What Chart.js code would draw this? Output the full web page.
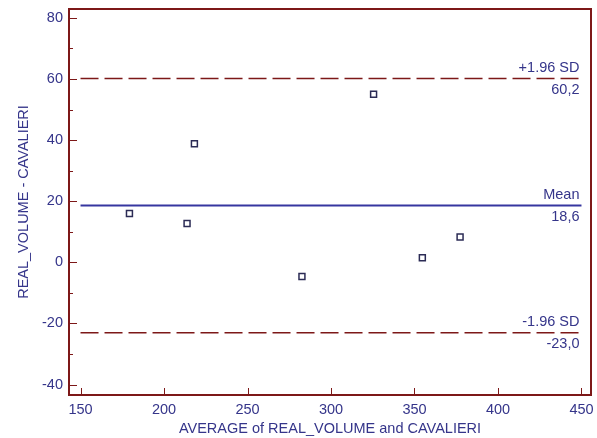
<!doctype html>
<html>
  <head>
    <meta charset="UTF-8">
    <script src="https://cdn.jsdelivr.net/npm/chart.js"></script>
    <style>
      body { margin: 0; background: #fff; }
      #wrap { position: relative; width: 597px; height: 438px; }
    </style>
  </head>
  <body>
    <div id="wrap"><canvas id="ba"></canvas></div>
    <script>
      // averages (x) and differences (y)
      const averages = [179.3, 213.8, 218.2, 282.6, 325.5, 354.7, 377.3];
      const differences = [16.0, 12.7, 38.8, -4.6, 55.0, 1.5, 8.3];

      const meanDiff = 18.6;
      const upperLimit = 60.2;
      const lowerLimit = -23.0;
      const lineLabels = ['+1.96 SD', 'Mean', '-1.96 SD'];
      const lineValues = ['60,2', '18,6', '-23,0'];

      const xRange = [150, 450];

      const navy = '#35358a';
      const darkRed = '#7d1818';
      const font = { family: 'Liberation Sans, Arial, sans-serif', size: 14.5 };

      function hLine(y, color, width, dash) {
        return {
          type: 'line',
          data: xRange.map(x => ({ x, y })),
          borderColor: color,
          borderWidth: width,
          borderDash: dash,
          pointRadius: 0,
        };
      }

      // frame, inward ticks and line labels
      const decorations = {
        id: 'decorations',
        afterDraw(chart) {
          const { ctx, chartArea: a, scales: { x, y } } = chart;
          ctx.save();
          ctx.strokeStyle = darkRed;
          ctx.lineWidth = 2;
          ctx.strokeRect(a.left, a.top, a.right - a.left, a.bottom - a.top);

          ctx.lineWidth = 1;
          for (let v = -40; v <= 80; v += 10) {
            const py = Math.round(y.getPixelForValue(v)) + 0.5;
            const len = v % 20 === 0 ? 8 : 4;
            ctx.beginPath();
            ctx.moveTo(a.left, py);
            ctx.lineTo(a.left + len, py);
            ctx.stroke();
          }
          for (let v = 150; v <= 450; v += 50) {
            const px = Math.round(x.getPixelForValue(v)) + 0.5;
            ctx.beginPath();
            ctx.moveTo(px, a.bottom);
            ctx.lineTo(px, a.bottom - 7);
            ctx.stroke();
          }

          ctx.fillStyle = navy;
          ctx.font = `${font.size}px ${font.family}`;
          ctx.textAlign = 'right';
          const rx = x.getPixelForValue(xRange[1]) - 2;
          [upperLimit, meanDiff, lowerLimit].forEach((v, i) => {
            const py = y.getPixelForValue(v);
            ctx.textBaseline = 'bottom';
            ctx.fillText(lineLabels[i], rx, py - 3);
            ctx.textBaseline = 'top';
            ctx.fillText(lineValues[i], rx, py + 4);
          });
          ctx.restore();
        }
      };

      new Chart(document.getElementById('ba'), {
        type: 'scatter',
        data: {
          datasets: [
            hLine(upperLimit, darkRed, 1.5, [18, 6]),
            hLine(meanDiff, '#3636a0', 2, []),
            hLine(lowerLimit, darkRed, 1.5, [18, 6]),
            {
              data: averages.map((x, i) => ({ x, y: differences[i] })),
              pointStyle: 'rect',
              pointRadius: 4.2,
              pointBorderWidth: 1.5,
              pointBorderColor: '#2b2b55',
              pointBackgroundColor: 'rgba(255,255,255,0)',
            },
          ]
        },
        options: {
          responsive: true,
          maintainAspectRatio: false,
          animation: false,
          layout: { padding: { top: 9, right: 6, left: 0, bottom: 0 } },
          plugins: {
            legend: { display: false },
            tooltip: { enabled: false },
          },
          scales: {
            x: {
              type: 'linear',
              min: 143.1,
              max: 455.7,
              grid: { display: false, drawTicks: false },
              border: { display: false },
              ticks: {
                stepSize: 50,
                includeBounds: false,
                maxRotation: 0,
                color: navy,
                font,
                padding: 6,
              },
              title: {
                display: true,
                text: 'AVERAGE of REAL_VOLUME and CAVALIERI',
                color: navy,
                font,
                padding: { top: 0, bottom: 0 },
              },
              afterFit(scale) {
                scale.height = 43;
                scale.paddingLeft = 0;
                scale.paddingRight = 0;
              },
            },
            y: {
              type: 'linear',
              min: -43.4,
              max: 82.9,
              grid: { display: false, drawTicks: false },
              border: { display: false },
              ticks: {
                stepSize: 20,
                includeBounds: false,
                color: navy,
                font,
                padding: 6,
              },
              title: {
                display: true,
                text: 'REAL_VOLUME - CAVALIERI',
                color: navy,
                font,
                padding: { top: 15, bottom: 0 },
              },
              afterFit(scale) {
                scale.width = 69;
                scale.paddingTop = 0;
                scale.paddingBottom = 0;
              },
            }
          }
        },
        plugins: [decorations]
      });
    </script>
  </body>
</html>
